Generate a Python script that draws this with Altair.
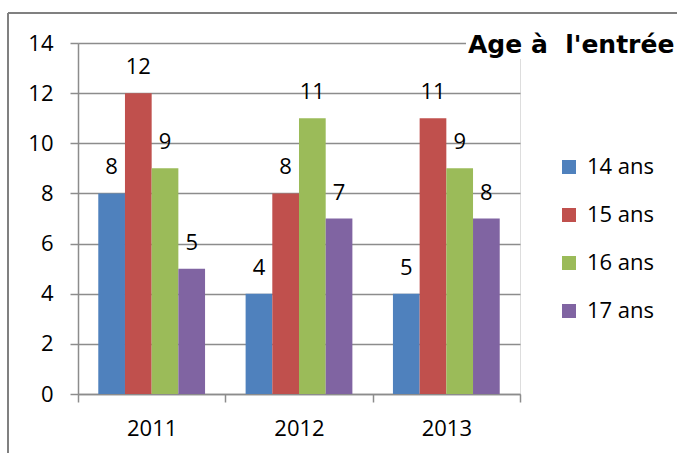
import altair as alt
import pandas as pd

years = ["2011", "2012", "2013"]
series = ["14 ans", "15 ans", "16 ans", "17 ans"]
bar_values = {
    "14 ans": [8, 4, 4],
    "15 ans": [12, 8, 11],
    "16 ans": [9, 11, 9],
    "17 ans": [5, 7, 7],
}
label_values = {
    "14 ans": [8, 4, 5],
    "15 ans": [12, 8, 11],
    "16 ans": [9, 11, 9],
    "17 ans": [5, 7, 8],
}
colors = ["#4F81BD", "#C0504D", "#9BBB59", "#8064A2"]
title_text = "Age à\u00a0 l'entrée"

rows = []
for s in series:
    for i, y in enumerate(years):
        rows.append({"year": y, "series": s, "value": bar_values[s][i],
                     "label": str(label_values[s][i])})
df = pd.DataFrame(rows)

FONT = "Open Sans"
FS = 22
GRID = "#8c8c8c"

x_enc = alt.X("year:N", sort=years, title=None,
              scale=alt.Scale(paddingInner=0, paddingOuter=0),
              axis=alt.Axis(tickBand="extent", labelAngle=0, domainColor=GRID,
                            tickColor=GRID, tickSize=8, tickWidth=1.5, domainWidth=1.5,
                            labelFontSize=FS, labelFont=FONT, labelColor="#000",
                            labelPadding=16, grid=False))
xo_enc = alt.XOffset("series:N", sort=series,
                     scale=alt.Scale(paddingInner=0, paddingOuter=0.76))
y_enc = alt.Y("value:Q", title=None,
              scale=alt.Scale(domain=[0, 14], nice=False),
              axis=alt.Axis(values=list(range(0, 15, 2)), grid=True, gridColor=GRID,
                            gridWidth=1.5, domainColor=GRID, domainWidth=1.5,
                            tickColor=GRID, tickSize=8, tickWidth=1.5,
                            labelFontSize=FS, labelFont=FONT, labelColor="#000",
                            labelPadding=17))

base = alt.Chart(df)
bars = base.mark_bar(size=26.7).encode(
    x=x_enc, xOffset=xo_enc, y=y_enc,
    color=alt.Color("series:N", sort=series,
                    scale=alt.Scale(domain=series, range=colors),
                    legend=alt.Legend(title=None, orient="none", legendX=480, legendY=113,
                                      symbolType="square", symbolSize=196,
                                      symbolStrokeWidth=0, labelFontSize=FS,
                                      labelFont=FONT, labelColor="#000",
                                      rowPadding=26, labelOffset=7)),
)
labels = base.mark_text(fontSize=FS, font=FONT, color="#000", dy=-26,
                        baseline="middle", align="center").encode(
    x=alt.X("year:N", sort=years), xOffset=alt.XOffset("series:N", sort=series),
    y="value:Q", text="label:N")

title_df = pd.DataFrame({"t": [title_text]})
title_bg = alt.Chart(title_df).mark_rect(color="white").encode(
    x=alt.value(388), x2=alt.value(446), y=alt.value(-12), y2=alt.value(16))
title = alt.Chart(title_df).mark_text(fontSize=25, font="DejaVu Sans", fontWeight="bold",
                                      color="#000", align="left", baseline="middle").encode(
    x=alt.value(390), y=alt.value(2), text="t:N")

border_df = pd.DataFrame({"k": [0]})
top_border = alt.Chart(border_df).mark_rule(color="#808080", strokeWidth=2).encode(
    x=alt.value(-70), x2=alt.value(600), y=alt.value(-30))
left_border = alt.Chart(border_df).mark_rule(color="#808080", strokeWidth=2).encode(
    x=alt.value(-70), y=alt.value(-30), y2=alt.value(420))

chart = alt.layer(bars, labels, title_bg, title, top_border, left_border).properties(
    width=442, height=351,
    autosize=alt.AutoSizeParams(type="none"),
    padding={"left": 78, "top": 43, "right": 157, "bottom": 59},
).configure_view(stroke=None).configure(background="white")

chart.save("out.html", embed_options={"renderer": "svg", "actions": False})
